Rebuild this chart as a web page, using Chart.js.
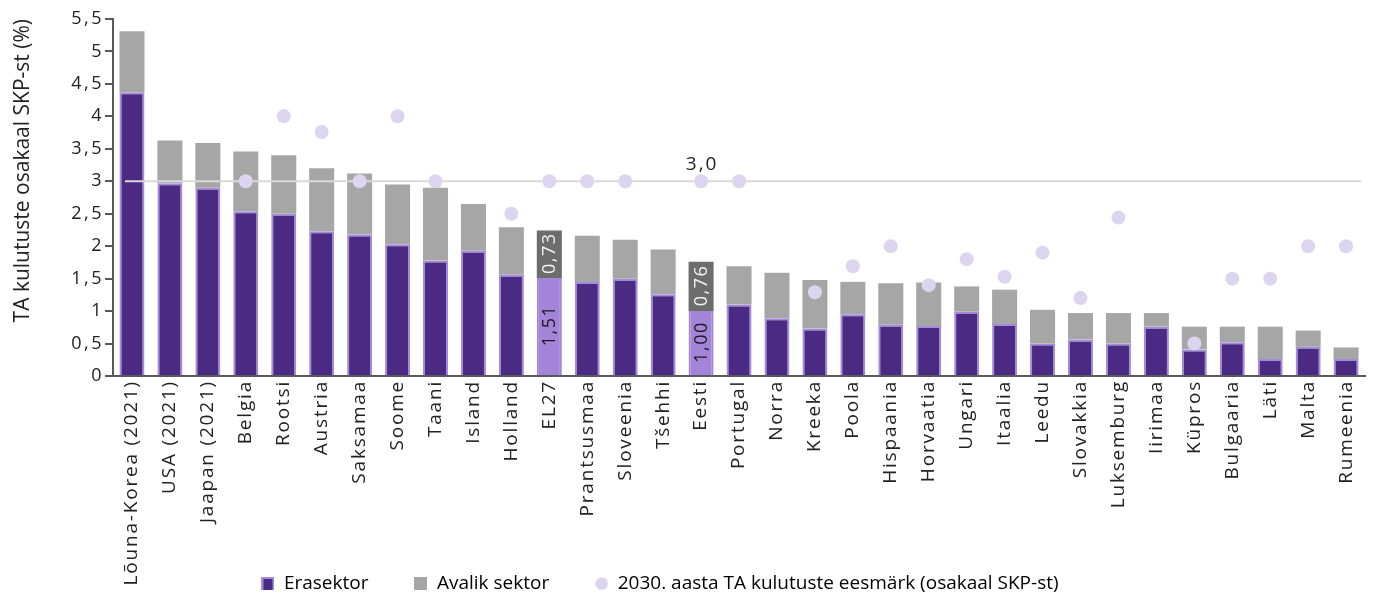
<!DOCTYPE html>
<html>
<head>
<meta charset="utf-8">
<script src="https://cdn.jsdelivr.net/npm/chart.js@4"></script>
<style>
  html, body { margin: 0; padding: 0; background: #fff; }
  #wrap { width: 1373px; height: 595px; }
</style>
</head>
<body>
<div id="wrap"><canvas id="rdChart" width="1373" height="595"></canvas></div>
<script>
var countries = ['Lõuna-Korea (2021)', 'USA (2021)', 'Jaapan (2021)', 'Belgia', 'Rootsi', 'Austria', 'Saksamaa', 'Soome', 'Taani', 'Island', 'Holland', 'EL27', 'Prantsusmaa', 'Sloveenia', 'Tšehhi', 'Eesti', 'Portugal', 'Norra', 'Kreeka', 'Poola', 'Hispaania', 'Horvaatia', 'Ungari', 'Itaalia', 'Leedu', 'Slovakkia', 'Luksemburg', 'Iirimaa', 'Küpros', 'Bulgaaria', 'Läti', 'Malta', 'Rumeenia'];
var privateSector = [4.37, 2.97, 2.90, 2.54, 2.50, 2.23, 2.18, 2.03, 1.78, 1.93, 1.56, 1.51, 1.45, 1.50, 1.26, 1.00, 1.10, 0.89, 0.73, 0.95, 0.79, 0.77, 0.99, 0.80, 0.50, 0.56, 0.50, 0.76, 0.41, 0.52, 0.26, 0.45, 0.26];
var publicSector = [0.94, 0.66, 0.69, 0.92, 0.90, 0.97, 0.94, 0.92, 1.12, 0.72, 0.73, 0.73, 0.71, 0.60, 0.69, 0.76, 0.59, 0.70, 0.75, 0.50, 0.64, 0.67, 0.39, 0.53, 0.52, 0.41, 0.47, 0.21, 0.35, 0.24, 0.50, 0.25, 0.18];
var target2030 = [null, null, null, 3.0, 4.0, 3.76, 3.0, 4.0, 3.0, null, 2.5, 3.0, 3.0, 3.0, null, 3.0, 3.0, null, 1.29, 1.69, 2.0, 1.4, 1.8, 1.53, 1.9, 1.2, 2.44, null, 0.5, 1.5, 1.5, 2.0, 2.0];
var euTarget = 3.0;
var highlighted = ['EL27', 'Eesti'];
var yTicks = [0, 0.5, 1, 1.5, 2, 2.5, 3, 3.5, 4, 4.5, 5, 5.5];

var fontFam = "'Open Sans', 'Noto Sans', sans-serif";
var PURPLE = '#4B2A84', PURPLE_EDGE = '#A58BDC', PURPLE_LIGHT = '#A384D8';
var GREY = '#A6A6A6', GREY_DARK = '#6D6D6D', DOT = '#DDD4EF';

function fmt(v, d) {
    return v.toFixed(d).replace('.', ',');
}
function isHi(i) {
    return highlighted.indexOf(countries[i]) >= 0;
}

var privColors = countries.map(function(c, i) { return isHi(i) ? PURPLE_LIGHT : PURPLE; });
var privBorders = countries.map(function(c, i) { return isHi(i) ? PURPLE_LIGHT : PURPLE_EDGE; });
var pubColors = countries.map(function(c, i) { return isHi(i) ? GREY_DARK : GREY; });

// little marker images for the legend
function marker(fill, edge, round) {
    var c = document.createElement('canvas');
    c.width = 13; c.height = 13;
    var g = c.getContext('2d');
    if (round) {
        g.fillStyle = fill;
        g.beginPath(); g.arc(6.5, 6.5, 6.3, 0, Math.PI * 2); g.fill();
    } else {
        g.fillStyle = edge; g.fillRect(0, 0, 13, 13);
        g.fillStyle = fill; g.fillRect(2, 2, 9, 11);
    }
    return c;
}

// wider letter spacing on tick labels, and no clipping of the long x labels
var spacing = {
    id: 'spacing',
    beforeDraw: function(chart) {
        [['x', '1.8px'], ['y', '2.5px']].forEach(function(p) {
            var s = chart.scales[p[0]];
            if (s._spaced) return;
            var orig = s.drawLabels;
            s._computeLabelArea = function() { return undefined; };
            s.drawLabels = function(ca) {
                var c = this.ctx, prev = c.letterSpacing;
                c.letterSpacing = p[1];
                orig.call(this, ca);
                c.letterSpacing = prev;
            };
            s._spaced = true;
        });
    }
};

// 3% line drawn just before the target dots
var targetLine = {
    id: 'targetLine',
    beforeDatasetDraw: function(chart, args) {
        if (args.index !== 2) return;
        var ctx = chart.ctx, ca = chart.chartArea;
        var y = chart.scales.y.getPixelForValue(euTarget);
        ctx.save();
        ctx.strokeStyle = '#D9D9D9';
        ctx.lineWidth = 2;
        ctx.beginPath();
        ctx.moveTo(ca.left + 12, y);
        ctx.lineTo(ca.right - 4, y);
        ctx.stroke();
        var x = chart.scales.x.getPixelForValue(countries.indexOf('Eesti'));
        ctx.fillStyle = '#222';
        ctx.font = '19px ' + fontFam;
        ctx.letterSpacing = '2px';
        ctx.textAlign = 'center';
        ctx.textBaseline = 'middle';
        ctx.fillText(fmt(euTarget, 1), x + 1, y - 17);
        ctx.restore();
    }
};

// rotated value labels inside the highlighted bars
var barLabels = {
    id: 'barLabels',
    afterDatasetsDraw: function(chart) {
        var ctx = chart.ctx;
        [0, 1].forEach(function(di) {
            var meta = chart.getDatasetMeta(di);
            var vals = di === 0 ? privateSector : publicSector;
            meta.data.forEach(function(bar, i) {
                if (!isHi(i)) return;
                var cy = (bar.y + bar.base) / 2;
                ctx.save();
                ctx.translate(bar.x, cy);
                ctx.rotate(-Math.PI / 2);
                ctx.fillStyle = di === 0 ? '#1a1a1a' : '#f2f2f2';
                ctx.font = '18px ' + fontFam;
                ctx.letterSpacing = '1.5px';
                ctx.textAlign = 'center';
                ctx.textBaseline = 'middle';
                ctx.fillText(fmt(vals[i], 2), 1, 1);
                ctx.restore();
            });
        });
    }
};

var ctx = document.getElementById('rdChart').getContext('2d');
var rdChart = new Chart(ctx, {
    type: 'bar',
    data: {
        labels: countries,
        datasets: [{
            label: 'Erasektor',
            data: privateSector,
            backgroundColor: privColors,
            borderColor: privBorders,
            borderWidth: { top: 2, left: 2, right: 2, bottom: 0 },
            borderSkipped: false,
            stack: 's',
            order: 1
        }, {
            label: 'Avalik sektor',
            data: publicSector,
            backgroundColor: pubColors,
            borderColor: pubColors,
            borderWidth: 0,
            stack: 's',
            order: 1
        }, {
            type: 'line',
            label: '2030. aasta TA kulutuste eesmärk (osakaal SKP-st)',
            data: target2030,
            showLine: false,
            pointRadius: 7,
            pointHoverRadius: 7,
            pointBackgroundColor: DOT,
            pointBorderWidth: 0,
            borderColor: DOT,
            backgroundColor: DOT,
            order: 0
        }]
    },
    options: {
        responsive: false,
        animation: false,
        layout: { padding: { top: 19, right: 7, left: -46, bottom: -8 } },
        datasets: {
            bar: { categoryPercentage: 1.0, barPercentage: 0.66 }
        },
        plugins: {
            tooltip: { enabled: false },
            legend: {
                position: 'bottom',
                labels: {
                    font: { family: fontFam, size: 19 },
                    color: '#222',
                    boxWidth: 13,
                    boxHeight: 13,
                    padding: 46,
                    usePointStyle: true,
                    generateLabels: function(chart) {
                        return [
                            { text: 'Erasektor', datasetIndex: 0, pointStyle: marker(PURPLE, PURPLE_EDGE, false), lineWidth: 0 },
                            { text: 'Avalik sektor', datasetIndex: 1, pointStyle: marker(GREY, GREY, false), lineWidth: 0 },
                            { text: '2030. aasta TA kulutuste eesmärk (osakaal SKP-st)', datasetIndex: 2, pointStyle: marker(DOT, DOT, true), lineWidth: 0 }
                        ];
                    }
                }
            }
        },
        scales: {
            x: {
                stacked: true,
                grid: { display: false, drawTicks: false },
                border: { color: '#595959', width: 2 },
                ticks: {
                    autoSkip: false,
                    maxRotation: 90,
                    minRotation: 90,
                    padding: 4,
                    color: '#222',
                    font: { family: fontFam, size: 19 }
                },
                afterFit: function(scale) { scale.height = 152; }
            },
            y: {
                stacked: true,
                min: 0,
                max: 5.5,
                afterBuildTicks: function(scale) {
                    scale.ticks = yTicks.map(function(v) { return { value: v }; });
                },
                grid: { display: true, drawOnChartArea: false, drawTicks: true, tickLength: 8, color: '#595959', lineWidth: 2 },
                border: { color: '#595959', width: 2 },
                ticks: {
                    padding: 1,
                    color: '#222',
                    font: { family: fontFam, size: 18 },
                    callback: function(v) {
                        return String(v).replace('.', ',');
                    }
                },
                title: {
                    display: true,
                    text: 'TA kulutuste osakaal SKP-st (%)',
                    align: 'end',
                    color: '#222',
                    font: { family: fontFam, size: 21 },
                    padding: { top: 56, bottom: 0 }
                },
                afterFit: function(scale) { scale.width = 159; }
            }
        }
    },
    plugins: [spacing, targetLine, barLabels]
});
</script>
</body>
</html>
